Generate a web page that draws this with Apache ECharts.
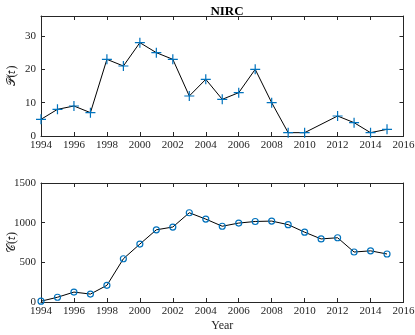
<!DOCTYPE html>
<html><head><meta charset="utf-8">
<script src="https://cdn.jsdelivr.net/npm/echarts@6/dist/echarts.min.js"></script>
<style>html,body{margin:0;padding:0;background:#fff}#c{width:415px;height:335px}</style>
</head><body><div id="c"></div>
<script>
const years = [1994,1995,1996,1997,1998,1999,2000,2001,2002,2003,2004,2005,2006,2007,2008,2009,2010,2011,2012,2013,2014,2015];
const pValues = [5,8,9,7,23,21,28,25,23,12,17,11,13,20,10,1,1,null,6,4,1,2];
const cValues = [10,60,125,100,210,545,730,910,945,1125,1045,955,995,1015,1020,975,880,795,810,630,645,605];
const xTicks = [1994,1996,1998,2000,2002,2004,2006,2008,2010,2012,2014,2016];
const titleText = 'NIRC';
const pLabel = '\u{1D4AB}(\u{1D461})';
const cLabel = '\u{1D49E}(\u{1D461})';
const xLabel = 'Year';

const ax = '#262626';
const font = 'Liberation Serif';
const blue = '#0072BD';
function xAx(gi, pos, showLabel, name){
  return {type:'value', gridIndex:gi, position:pos, min:1994, max:2016, interval:2,
    axisLine:{show:true, onZero:false, lineStyle:{color:ax, width:1}},
    axisTick:{show:true, inside:true, length:4, lineStyle:{color:ax}},
    axisLabel:{show:showLabel, color:ax, fontFamily:font, fontSize:11, margin:4, formatter:v=>String(v)},
    splitLine:{show:false},
    name:name||'', nameLocation:'middle', nameGap:18, nameMoveOverlap:false,
    nameTextStyle:{color:ax, fontFamily:font, fontSize:12}};
}
function yAx(gi, pos, max, interval, showLabel, name){
  return {type:'value', gridIndex:gi, position:pos, min:0, max:max, interval:interval,
    axisLine:{show:true, onZero:false, lineStyle:{color:ax, width:1}},
    axisTick:{show:true, inside:true, length:4, lineStyle:{color:ax}},
    axisLabel:{show:showLabel, color:ax, fontFamily:font, fontSize:11, margin:5,
      formatter:v=> (v % interval === 0 ? String(v) : '')},
    splitLine:{show:false},
    name:name||'', nameLocation:'middle', nameGap:23, nameRotate:90, nameMoveOverlap:false,
    nameTextStyle:{color:ax, fontFamily:font, fontSize:12}};
}
const chart = echarts.init(document.getElementById('c'), null, {renderer:'canvas'});
chart.setOption({
  animation:false,
  backgroundColor:'#fff',
  title:{text:titleText, left:222, top:0, textAlign:'center',
    textStyle:{fontFamily:font, fontWeight:'bold', fontSize:13, color:'#000'}},
  grid:[
    {left:41, right:11.5, top:16, height:120, outerBoundsMode:'none', containLabel:false},
    {left:41, right:11.5, top:183, height:119, outerBoundsMode:'none', containLabel:false}
  ],
  xAxis:[
    xAx(0,'bottom',true), xAx(0,'top',false),
    xAx(1,'bottom',true,xLabel), xAx(1,'top',false)
  ],
  yAxis:[
    yAx(0,'left',36,10,true,pLabel), yAx(0,'right',36,10,false),
    yAx(1,'left',1500,500,true,cLabel), yAx(1,'right',1500,500,false)
  ],
  series:[
    {type:'line', xAxisIndex:0, yAxisIndex:0, data:years.map((y,i)=>[y,pValues[i]]),
      connectNulls:true,
      lineStyle:{color:'#000', width:1}, symbol:'path://M0,-5V5M-5,0H5', symbolSize:10,
      itemStyle:{color:'none', borderColor:blue, borderWidth:1.2}, showAllSymbol:true},
    {type:'line', xAxisIndex:2, yAxisIndex:2, data:years.map((y,i)=>[y,cValues[i]]),
      lineStyle:{color:'#000', width:1}, symbol:'circle', symbolSize:6,
      itemStyle:{color:'none', borderColor:blue, borderWidth:1.2}, showAllSymbol:true}
  ]
});
</script></body></html>
